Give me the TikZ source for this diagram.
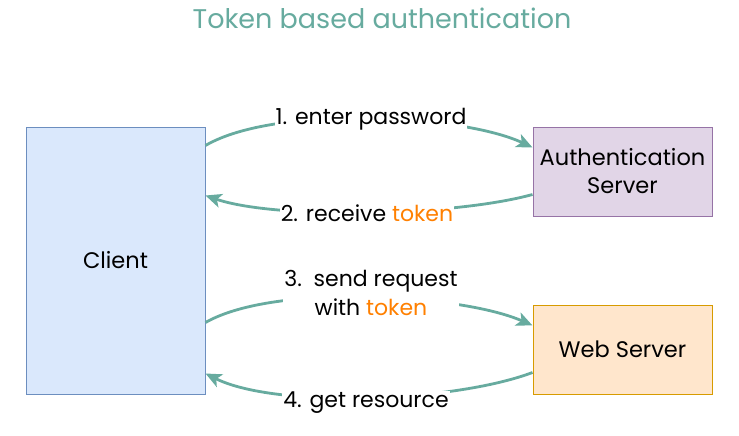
\documentclass[tikz,border=0pt]{standalone}
\usepackage{fontspec}
\setmainfont{Poppins}
\usetikzlibrary{arrows.meta}
\definecolor{teal}{HTML}{67AB9F}
\definecolor{tok}{HTML}{FF8000}
\definecolor{cfill}{HTML}{DAE8FC}
\definecolor{cline}{HTML}{6C8EBF}
\definecolor{afill}{HTML}{E1D5E7}
\definecolor{aline}{HTML}{9673A6}
\definecolor{wfill}{HTML}{FFE6CC}
\definecolor{wline}{HTML}{D79B00}
\begin{document}
\begin{tikzpicture}[x=1pt,y=-1pt,
  box/.style={draw, line width=1pt, inner sep=0pt, font=\fontsize{22.5}{28}\selectfont, align=center},
  flow/.style={draw=teal, line width=2.8pt, -{Stealth[length=16pt,width=14pt,inset=4pt]}},
  lbl/.style={fill=white, inner sep=1pt, font=\fontsize{22}{29}\selectfont, align=center}]
\useasboundingbox (0,0) rectangle (739,436);
\node[box, fill=cfill, draw=cline, minimum width=179pt, minimum height=267pt] (client) at (115.5,260.5) {Client};
\node[box, fill=afill, draw=aline, minimum width=179pt, minimum height=89pt] (auth) at (622.5,171.5) {Authentication\\Server};
\node[box, fill=wfill, draw=wline, minimum width=179pt, minimum height=89pt] (web) at (622.5,349.5) {Web Server};
\node[font=\fontsize{27}{32}\selectfont, text=teal] (title) at (382,18) {Token based authentication};
% connectors
\draw[flow] ([yshift=-19pt]client.north east) .. controls +(70,-41) and +(-70,-33) .. ([yshift=-21pt]auth.north west);
\draw[flow] ([yshift=22pt]auth.south west) .. controls +(-80,22) and +(70,24) .. ([yshift=-69pt]client.north east);
\draw[flow] ([yshift=-196pt]client.north east) .. controls +(70,-40) and +(-70,-31) .. ([yshift=-21pt]web.north west);
\draw[flow] ([yshift=22pt]web.south west) .. controls +(-80,30) and +(70,35) .. ([yshift=21pt]client.south east);
% labels
\node[lbl] (l1) at (371,119) {1. enter password};
\node[lbl] (l2) at (367,213) {2. receive \textcolor{tok}{token}};
\node[lbl] (l3) at (371,293) {3.\ \ send request\\with \textcolor{tok}{token}};
\node[lbl] (l4) at (366,403) {4. get resource};
\end{tikzpicture}
\end{document}
